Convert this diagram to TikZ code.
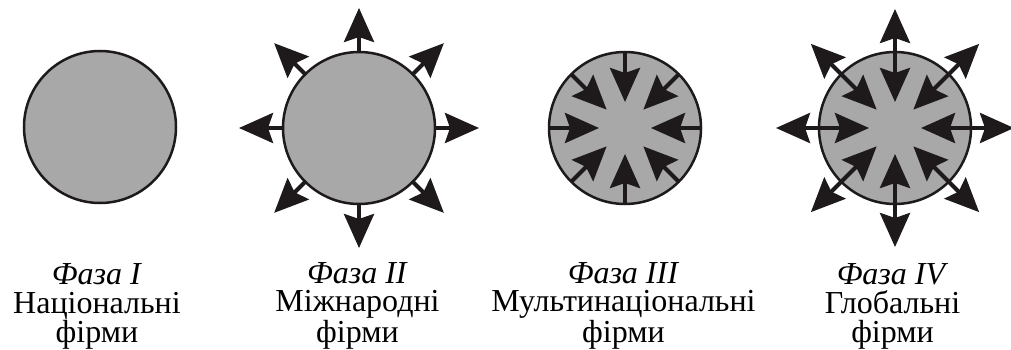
\documentclass[tikz,border=0pt]{standalone}
\usepackage{fontspec}
\setmainfont{Liberation Serif}
\usetikzlibrary{arrows.meta,calc}
\definecolor{disc}{RGB}{168,168,168}
\definecolor{ink}{RGB}{30,26,27}
\tikzset{
  Big/.tip={Stealth[length=34pt, width=30pt, inset=5pt, fill=ink]},
  phase/.style={circle, draw=ink, fill=disc, line width=2.5pt, minimum size=152pt, inner sep=0pt},
  ray/.style={draw=ink, line width=4pt, -Big},
  dray/.style={draw=ink, line width=4pt, Big-Big},
  caption/.style={align=center, anchor=base, inner sep=0pt, font=\fontsize{32}{28.7}\selectfont}
}
\begin{document}
\begin{tikzpicture}[x=1pt, y=-1pt]
\useasboundingbox (0,0) rectangle (1011,350);
% Phase I
\node[phase] (c1) at (100,127) {};
% Phase II
\node[phase] (c2) at (359,128) {};
\foreach \a in {0,45,...,315} {
  \coordinate (e2-\a) at ($(c2)+(\a:75)$);
  \coordinate (o2-\a) at ($(c2)+(\a:120)$);
  \draw[ray] (e2-\a) -- (o2-\a);
}
% Phase III
\node[phase] (c3) at (625,128) {};
\foreach \a in {0,45,...,315} {
  \coordinate (e3-\a) at ($(c3)+(\a:76)$);
  \coordinate (i3-\a) at ($(c3)+(\a:26)$);
  \draw[ray] (e3-\a) -- (i3-\a);
}
% Phase IV
\node[phase] (c4) at (895,128) {};
\foreach \a in {0,45,...,315} {
  \coordinate (i4-\a) at ($(c4)+(\a:26)$);
  \coordinate (o4-\a) at ($(c4)+(\a:119)$);
  \draw[dray] (i4-\a) -- (o4-\a);
}
% Captions
\node[caption] (t1) at (97,342) {\textit{Фаза I}\\Національні\\фірми};
\node[caption] (t2) at (357.5,342) {\textit{Фаза II}\\Міжнародні\\фірми};
\node[caption] (t3) at (623.5,342) {\textit{Фаза III}\\Мультинаціональні\\фірми};
\node[caption] (t4) at (892.5,342) {\textit{Фаза IV}\\Глобальні\\фірми};
\end{tikzpicture}
\end{document}
